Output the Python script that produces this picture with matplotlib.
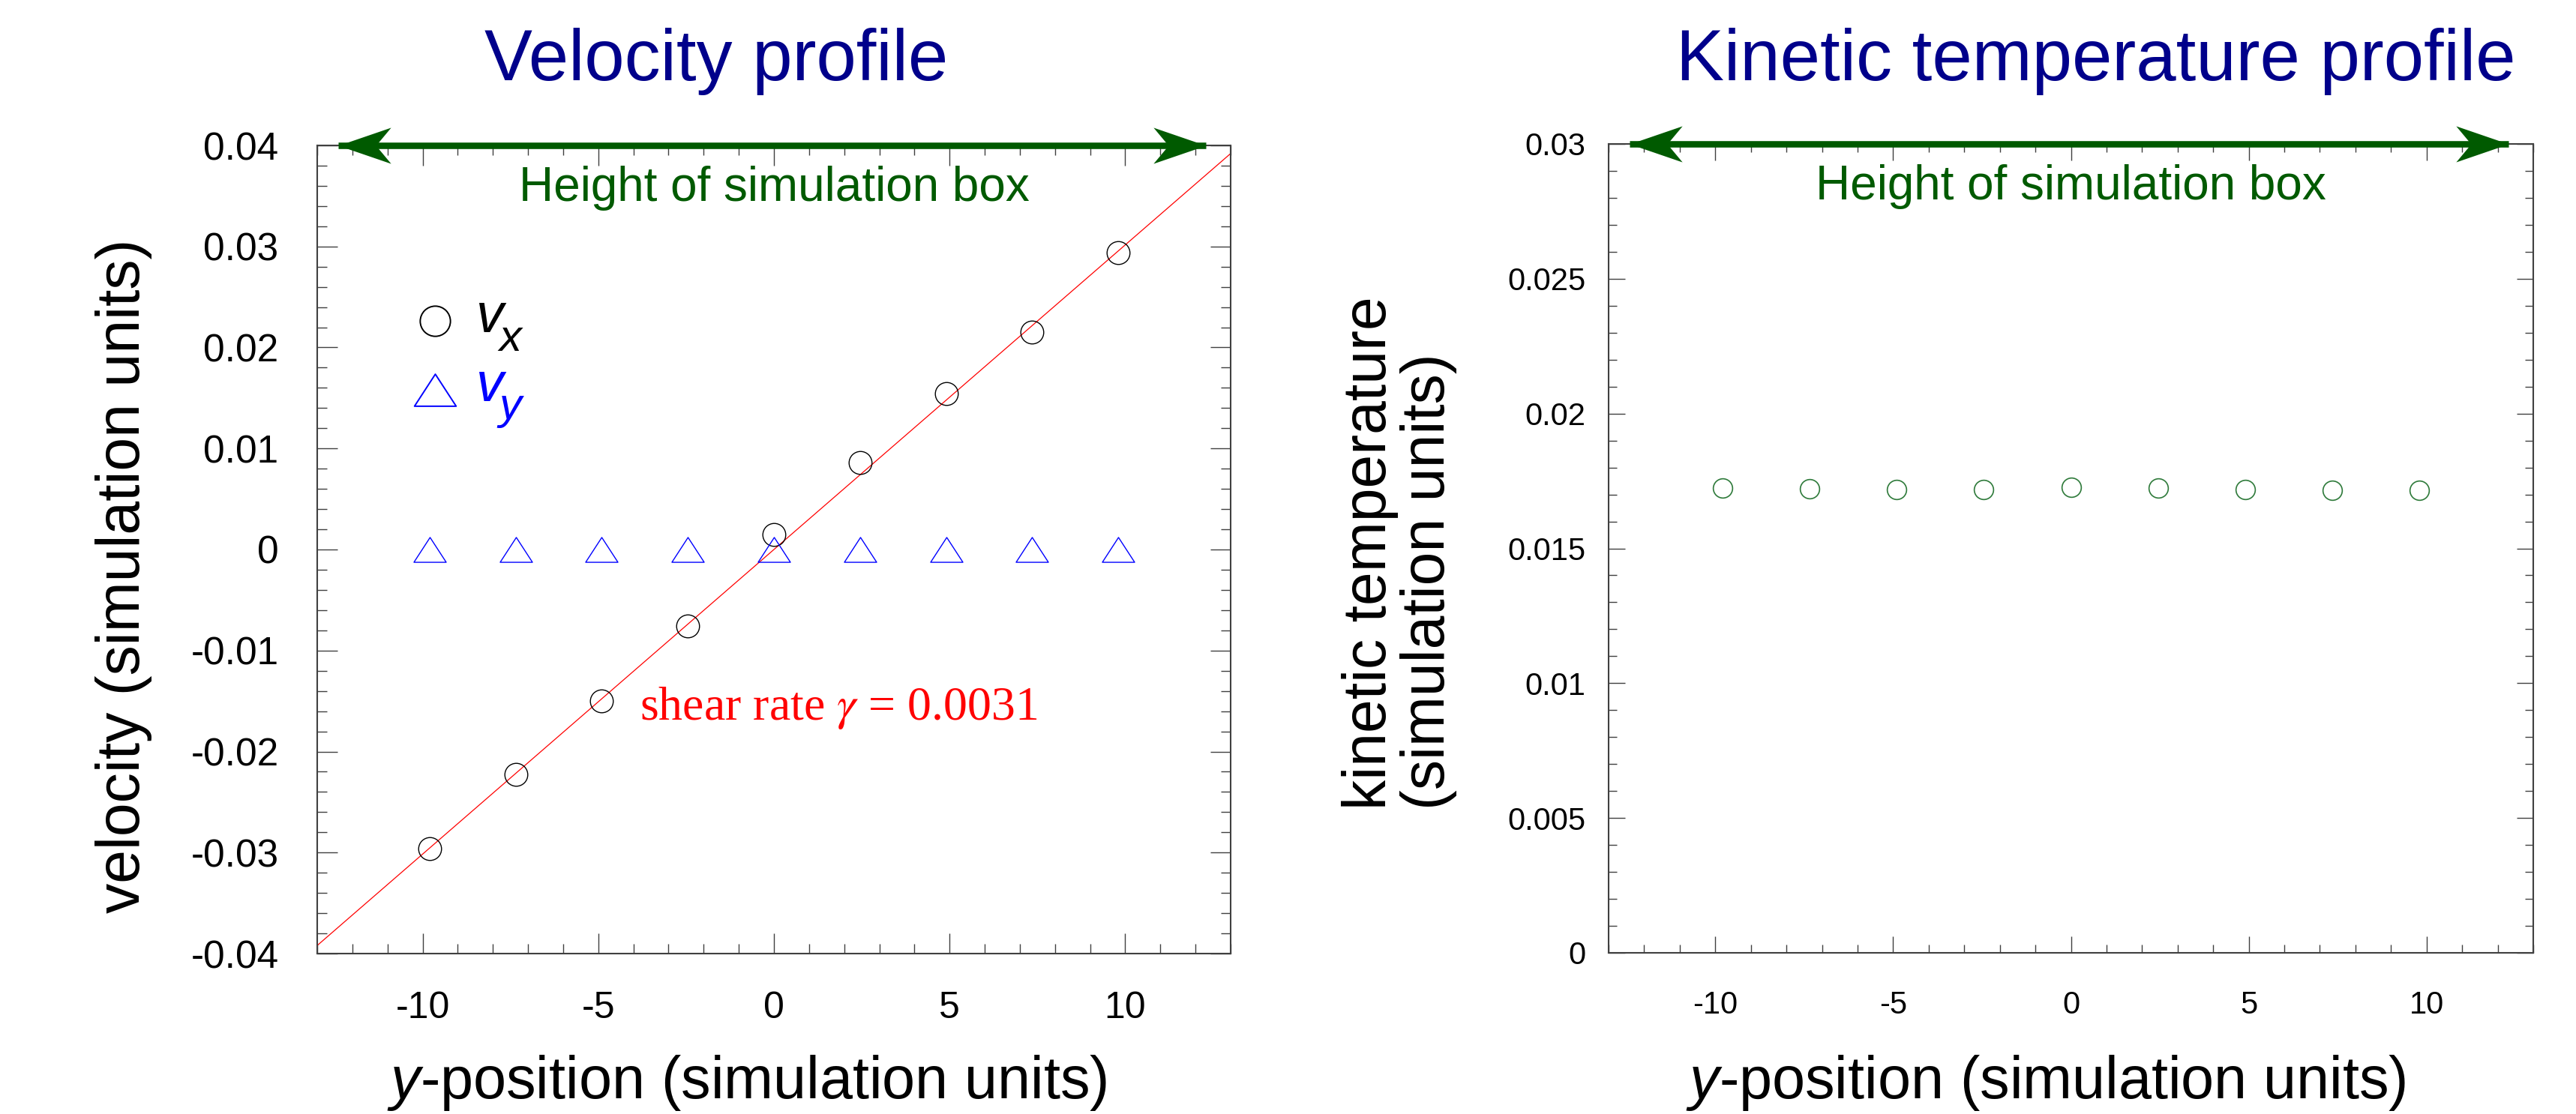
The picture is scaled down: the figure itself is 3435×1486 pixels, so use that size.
import matplotlib
matplotlib.use('Agg')
import matplotlib.pyplot as plt
from matplotlib.ticker import MultipleLocator, FuncFormatter
from matplotlib.path import Path
from matplotlib.transforms import blended_transform_factory

plt.rcParams['font.family'] = ['Liberation Sans', 'DejaVu Sans']
plt.rcParams['axes.unicode_minus'] = False
plt.rcParams['mathtext.fontset'] = 'custom'
plt.rcParams['mathtext.rm'] = 'Liberation Sans'
plt.rcParams['mathtext.it'] = 'Liberation Sans:italic'

# data
y_pos = [-9.8, -7.35, -4.9, -2.45, 0.0, 2.45, 4.9, 7.35, 9.8]
vx = [-0.0296, -0.0223, -0.0150, -0.0076, 0.0015, 0.0086, 0.0154, 0.0215, 0.0294]
vy = [0.0, 0.0, 0.0, 0.0, 0.0, 0.0, 0.0, 0.0, 0.0]
fit_x = [-13.0, 13.0]
fit_y = [-0.0392, 0.0392]
kin_temp = [0.01724, 0.01722, 0.01718, 0.01719, 0.01727, 0.01724, 0.01717, 0.01716, 0.01716]
box_edges = [-12.4, 12.3]

W, H = 3435, 1486
NAVY = '#00008b'
DKGREEN = '#005a00'

fig = plt.figure(figsize=(W / 100, H / 100), dpi=100)


def fx(px):
    return px / W


def fy(py):
    return (H - py) / H


ax1 = fig.add_axes([fx(423), fy(1272), fx(1641) - fx(423), fy(194) - fy(1272)])
ax2 = fig.add_axes([fx(2145), fy(1271), fx(3378) - fx(2145), fy(192) - fy(1271)])

fmt = FuncFormatter(lambda v, p: '{:g}'.format(round(v, 5)))

for ax in (ax1, ax2):
    for sp in ax.spines.values():
        sp.set_color('#404040')
        sp.set_linewidth(1.5)
    ax.set_xlim(-13, 13)
    ax.xaxis.set_major_locator(MultipleLocator(5))
    ax.xaxis.set_minor_locator(MultipleLocator(1))
    ax.yaxis.set_major_formatter(fmt)
    ax.xaxis.set_major_formatter(fmt)

# left panel: velocity
ax1.set_ylim(-0.04, 0.04)
ax1.yaxis.set_major_locator(MultipleLocator(0.01))
ax1.yaxis.set_minor_locator(MultipleLocator(0.002))
ax1.tick_params(which='both', direction='in', top=True, right=True,
                color='#404040', width=1.0)
ax1.tick_params(which='major', length=19.5)
ax1.tick_params(which='minor', length=9.5)
ax1.tick_params(axis='y', which='major', labelsize=37, pad=37)
ax1.tick_params(axis='x', which='major', labelsize=36, pad=36)

tri = Path([(-0.65, -0.5), (0.65, -0.5), (0.0, 0.5), (-0.65, -0.5)],
           [Path.MOVETO, Path.LINETO, Path.LINETO, Path.CLOSEPOLY])

ax1.plot(fit_x, fit_y, color='red', lw=0.9, zorder=2)
ax1.plot(y_pos, vx, ls='none', marker='o', ms=22, mfc='none', mec='black',
         mew=1.0, zorder=3)
ax1.plot(y_pos, vy, ls='none', marker=tri, ms=31, mfc='none', mec='blue',
         mew=1.0, zorder=3)

# hand-made legend
ax1.plot([0.129], [0.783], transform=ax1.transAxes, marker='o', ms=29,
         mfc='none', mec='black', mew=1.4, ls='none', clip_on=False)
ax1.plot([0.129], [0.698], transform=ax1.transAxes, marker=tri, ms=40,
         mfc='none', mec='blue', mew=1.4, ls='none', clip_on=False)
ax1.text(0.174, 0.769, 'v', transform=ax1.transAxes, fontsize=53,
         fontstyle='italic', color='black', va='baseline', ha='left')
ax1.text(0.199, 0.746, 'x', transform=ax1.transAxes, fontsize=43,
         fontstyle='italic', color='black', va='baseline', ha='left')
ax1.text(0.174, 0.684, 'v', transform=ax1.transAxes, fontsize=53,
         fontstyle='italic', color='blue', va='baseline', ha='left')
ax1.text(0.199, 0.661, 'y', transform=ax1.transAxes, fontsize=43,
         fontstyle='italic', color='blue', va='baseline', ha='left')

ax1.text(-3.83, -0.01685, r'shear rate $\gamma$ = 0.0031', color='red',
         fontsize=46, family='Liberation Serif', math_fontfamily='stix',
         ha='left', va='baseline')

# right panel: kinetic temperature
ax2.set_ylim(0, 0.03)
ax2.yaxis.set_major_locator(MultipleLocator(0.005))
ax2.yaxis.set_minor_locator(MultipleLocator(0.001))
ax2.tick_params(which='both', direction='in', top=True, right=True,
                color='#404040', width=1.0)
ax2.tick_params(which='major', length=16)
ax2.tick_params(which='minor', length=8)
ax2.tick_params(axis='y', which='major', labelsize=30, pad=22)
ax2.tick_params(axis='x', which='major', labelsize=30, pad=36)

ax2.plot(y_pos, kin_temp, ls='none', marker='o', ms=18.5, mfc='none',
         mec='#2e7a3a', mew=1.2, zorder=3)

# barbed arrow heads (tip at marker origin)
left_head = Path([(0, 0), (70, 24), (50, 0), (70, -24), (0, 0)],
                 [Path.MOVETO, Path.LINETO, Path.LINETO, Path.LINETO, Path.CLOSEPOLY])
right_head = Path([(0, 0), (-70, 24), (-50, 0), (-70, -24), (0, 0)],
                  [Path.MOVETO, Path.LINETO, Path.LINETO, Path.LINETO, Path.CLOSEPOLY])

# box height arrows and text
for ax, ytop in ((ax1, 0.04), (ax2, 0.03)):
    ax.plot(box_edges, [ytop, ytop], color=DKGREEN, lw=6.2,
            solid_capstyle='butt', clip_on=False, zorder=5)
    ax.plot([box_edges[0]], [ytop], marker=left_head, ms=101, mfc=DKGREEN,
            mew=0, ls='none', clip_on=False, zorder=6)
    ax.plot([box_edges[1]], [ytop], marker=right_head, ms=101, mfc=DKGREEN,
            mew=0, ls='none', clip_on=False, zorder=6)
    tr = blended_transform_factory(ax.transData, ax.transAxes)
    ax.text(0, 0.931, 'Height of simulation box', transform=tr, fontsize=46,
            color=DKGREEN, ha='center', va='baseline')

# titles and axis labels
fig.text(fx(955), fy(107), 'Velocity profile', fontsize=69, color=NAVY,
         ha='center', va='baseline')
fig.text(fx(2795), fy(107), 'Kinetic temperature profile', fontsize=69,
         color=NAVY, ha='center', va='baseline')

fig.text(fx(996), fy(1465), r'$y$-position (simulation units)', fontsize=57,
         ha='center', va='baseline')
fig.text(fx(2728), fy(1465), r'$y$-position (simulation units)', fontsize=57,
         ha='center', va='baseline')
fig.text(fx(165), fy(768), 'velocity (simulation units)', fontsize=58,
         rotation=90, ha='center', va='center')
fig.text(fx(1866), fy(1080), 'kinetic temperature\n(simulation units)',
         fontsize=58, rotation=90, ha='center', va='bottom',
         multialignment='left', linespacing=1.05)

fig.savefig('out.png', dpi=100)
